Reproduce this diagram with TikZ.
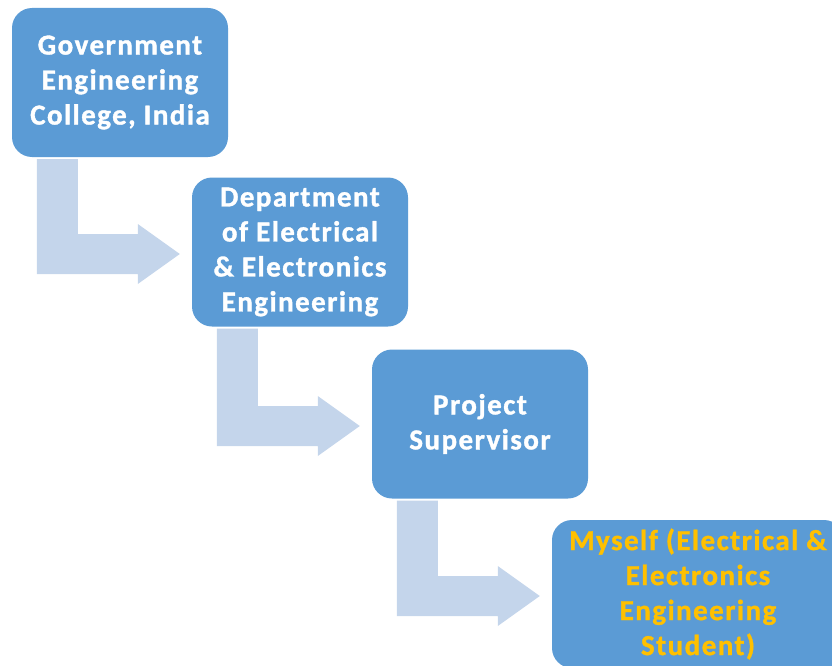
\documentclass[tikz,border=0pt]{standalone}
\usepackage{fontspec}
\setmainfont{Carlito}
\newfontfamily\boxfont[LetterSpace=5,FakeBold=1.2]{Carlito}
\usetikzlibrary{calc}
\definecolor{boxblue}{HTML}{5B9BD5}
\definecolor{arrowblue}{HTML}{C4D5EB}
\definecolor{gold}{HTML}{FFC000}
\tikzset{
  level/.style={fill=boxblue, rounded corners=20pt, minimum width=216pt, minimum height=149pt,
    inner sep=0pt, align=center, text=white,
    font=\boxfont\fontsize{29}{35}\selectfont\bfseries},
  flowarrow/.style={fill=arrowblue}
}
% Elbow arrow: down from the lower left of #1, then right into the west side of #2
\newcommand\elbowarrow[2]{%
  \path (#1.south west) ++(25,2) coordinate (s1) ++(41,0) coordinate (s2);
  \coordinate (tip) at ($(#2.west)+(-12,2)$);
  \coordinate (bt) at ($(tip)+(-42,-20)$);
  \coordinate (bb) at ($(tip)+(-42,20)$);
  \coordinate (ht) at ($(tip)+(-42,-30)$);
  \coordinate (hb) at ($(tip)+(-42,30)$);
  \fill[flowarrow] (s1) -- (s2) -- (s2 |- bt) -- (bt) -- (ht) -- (tip) -- (hb) -- (bb) -- (s1 |- bb) -- cycle;
}
\begin{document}
\begin{tikzpicture}[x=1pt,y=-1pt]
  \useasboundingbox (0,0) rectangle (832,666);
  \begin{scope}
    \clip (0,0) rectangle (832,666);
    \node[level] (gec) at (120,82.5) {Government\\Engineering\\College, India};
    \node[level] (eee) at (300,252) {Department\\of Electrical\\\& Electronics\\Engineering};
    \node[level] (sup) at (480,424) {Project\\Supervisor};
    \node[level, minimum width=292pt, minimum height=148pt, text=gold] (me) at (698,594)
      {Myself (Electrical \&\\Electronics\\Engineering\\Student)};
    \elbowarrow{gec}{eee}
    \elbowarrow{eee}{sup}
    \elbowarrow{sup}{me}
  \end{scope}
\end{tikzpicture}
\end{document}
